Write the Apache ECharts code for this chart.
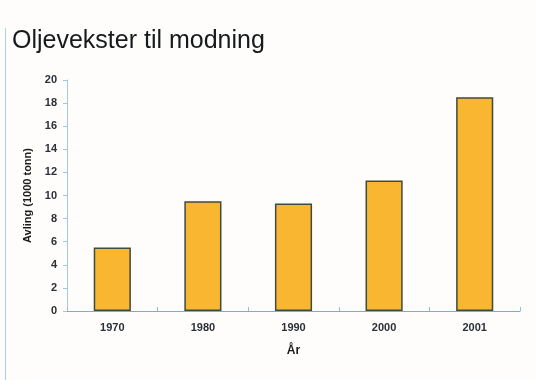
<!DOCTYPE html>
<html>
<head>
<meta charset="utf-8">
<style>
  html, body { margin: 0; padding: 0; background: #fffdfc; }
  #chart { width: 536px; height: 380px; }
</style>
<script src="https://cdn.jsdelivr.net/npm/echarts@6/dist/echarts.min.js"></script>
</head>
<body>
<div id="chart"></div>
<script>
// Harvest of oilseed crops by year (1000 tonnes)
var years = ['1970', '1980', '1990', '2000', '2001'];
var harvest = [5.5, 9.5, 9.3, 11.3, 18.5];
var yTicks = [0, 2, 4, 6, 8, 10, 12, 14, 16, 18, 20];

var chart = echarts.init(document.getElementById('chart'), null, { renderer: 'canvas' });

chart.setOption({
  backgroundColor: '#fffdfc',
  animation: false,
  title: {
    text: 'Oljevekster til modning',
    left: 7,
    top: 24,
    textStyle: {
      fontFamily: 'Liberation Sans, Arial, sans-serif',
      fontSize: 25,
      fontWeight: 'normal',
      color: '#151a1c',
      letterSpacing: -0.3
    }
  },
  graphic: [{
    type: 'line',
    shape: { x1: 5.5, y1: 28, x2: 5.5, y2: 380 },
    style: { stroke: '#a9cfe0', lineWidth: 1 }
  }],
  grid: { left: 67, right: 16, top: 80, bottom: 69 },
  xAxis: {
    type: 'category',
    data: years,
    name: 'År',
    nameLocation: 'middle',
    nameGap: 34,
    nameTextStyle: {
      fontFamily: 'Liberation Sans, Arial, sans-serif',
      fontSize: 12, fontWeight: 'bold', color: '#1c1c1c'
    },
    axisLine: { show: true, lineStyle: { color: '#6fb3cc', width: 1 } },
    axisTick: { show: true, alignWithLabel: false, inside: true, length: 4, lineStyle: { color: '#8fc3d8' } },
    axisLabel: {
      margin: 11,
      fontFamily: 'Liberation Sans, Arial, sans-serif',
      fontSize: 11, fontWeight: 'bold', color: '#2a3038'
    }
  },
  yAxis: {
    type: 'value',
    min: 0,
    max: 20,
    interval: 2,
    name: 'Avling (1000 tonn)',
    nameLocation: 'middle',
    nameGap: 34,
    nameTextStyle: {
      fontFamily: 'Liberation Sans, Arial, sans-serif',
      fontSize: 11, fontWeight: 'bold', color: '#1c1c1c'
    },
    splitLine: { show: false },
    axisLine: { show: true, lineStyle: { color: '#9ccbe0', width: 1 } },
    axisTick: { show: true, length: 4, lineStyle: { color: '#9ccbe0' } },
    axisLabel: {
      margin: 10,
      fontFamily: 'Liberation Sans, Arial, sans-serif',
      fontSize: 11, fontWeight: 'bold', color: '#2a3038',
      formatter: function (v) { return yTicks.indexOf(v) >= 0 ? String(v) : ''; }
    }
  },
  series: [{
    type: 'bar',
    data: harvest,
    barWidth: '41%',
    itemStyle: {
      color: '#f9b630',
      borderColor: '#3f4a40',
      borderWidth: 1.5
    }
  }]
});
</script>
</body>
</html>
